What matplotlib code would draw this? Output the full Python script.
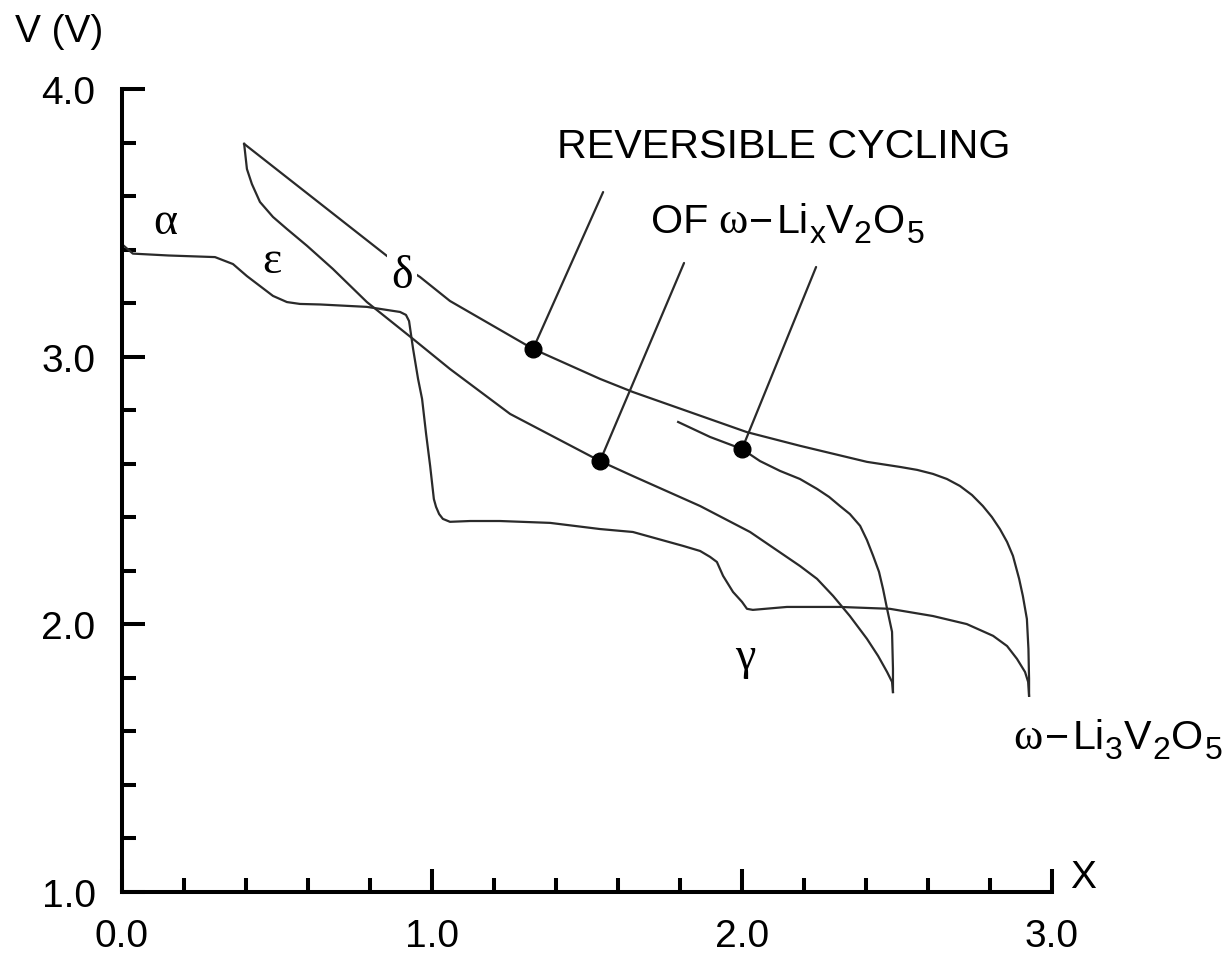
import matplotlib
matplotlib.use("Agg")
import matplotlib.pyplot as plt
from matplotlib.ticker import MultipleLocator, FormatStrFormatter
from matplotlib.transforms import offset_copy

plt.rcParams["font.family"] = ["Liberation Sans", "DejaVu Sans"]

SANS = "Liberation Sans"
SERIF = "Liberation Serif"

# First discharge of V2O5: alpha -> epsilon -> delta -> gamma -> omega
first_x = [0.0, 0.035, 0.15, 0.30, 0.358, 0.403, 0.445, 0.487, 0.532, 0.574,
           0.639, 0.79, 0.897, 0.916, 0.926, 0.932, 0.939, 0.955, 0.968, 0.981,
           0.994, 1.006, 1.013, 1.023, 1.035, 1.058, 1.123, 1.219, 1.381,
           1.542, 1.648, 1.81, 1.865, 1.897, 1.919, 1.939, 1.971, 2.0, 2.016,
           2.035, 2.145, 2.316, 2.477, 2.616, 2.725, 2.81, 2.855, 2.887,
           2.913, 2.923, 2.926]
first_v = [3.42, 3.385, 3.378, 3.372, 3.346, 3.301, 3.264, 3.227, 3.204, 3.197,
           3.195, 3.186, 3.167, 3.156, 3.133, 3.085, 3.029, 2.917, 2.842, 2.711,
           2.592, 2.468, 2.439, 2.412, 2.394, 2.383, 2.386, 2.386, 2.379,
           2.356, 2.345, 2.293, 2.274, 2.252, 2.233, 2.181, 2.121, 2.084, 2.058,
           2.054, 2.065, 2.065, 2.058, 2.031, 2.001, 1.957, 1.919, 1.871,
           1.822, 1.785, 1.733]

# Charge of omega-Li3V2O5 (outer reversible branch)
charge_x = [2.926, 2.926, 2.924, 2.919, 2.906, 2.894, 2.874, 2.855, 2.832,
            2.806, 2.777, 2.742, 2.703, 2.661, 2.616, 2.565, 2.51, 2.403,
            2.187, 2.016, 1.648, 1.542, 1.326, 1.058, 0.961, 0.855, 0.394]
charge_v = [1.733, 1.796, 1.908, 2.020, 2.106, 2.170, 2.256, 2.308, 2.356,
            2.401, 2.442, 2.483, 2.517, 2.543, 2.562, 2.577, 2.588, 2.607,
            2.667, 2.718, 2.868, 2.917, 3.029, 3.208, 3.298, 3.376, 3.795]

# Subsequent discharge of omega-LixV2O5
disch_x = [0.394, 0.403, 0.419, 0.445, 0.487, 0.532, 0.597, 0.68, 0.79, 0.939,
           1.058, 1.252, 1.542, 1.648, 1.865, 2.026, 2.187, 2.242, 2.294,
           2.348, 2.403, 2.439, 2.468, 2.484, 2.487]
disch_v = [3.795, 3.701, 3.645, 3.578, 3.522, 3.477, 3.414, 3.328, 3.204, 3.066,
           2.954, 2.786, 2.610, 2.554, 2.442, 2.345, 2.218, 2.170, 2.106,
           2.031, 1.946, 1.882, 1.822, 1.785, 1.747]

# Partial recharge (inner branch)
recharge_x = [2.487, 2.487, 2.484, 2.468, 2.455, 2.442, 2.423, 2.403, 2.381,
              2.348, 2.316, 2.281, 2.242, 2.187, 2.123, 2.058, 2.0, 1.897,
              1.794]
recharge_v = [1.747, 1.834, 1.972, 2.058, 2.132, 2.196, 2.256, 2.315, 2.368,
              2.412, 2.442, 2.476, 2.506, 2.543, 2.573, 2.610, 2.655, 2.700,
              2.756]

# Marked points and the far ends of their leader lines
dot_x = [1.326, 1.542, 2.0]
dot_v = [3.029, 2.610, 2.655]
leader_x = [1.552, 1.813, 2.239]
leader_v = [3.615, 3.350, 3.335]

# Phase labels
phase_names = ["\u03b1", "\u03b5", "\u03b4", "\u03b3"]
phase_x = [0.139, 0.484, 0.903, 2.010]
phase_v = [3.503, 3.357, 3.301, 1.878]
phase_masks_line = [False, False, True, False]

x_ticks = [0.0, 1.0, 2.0, 3.0]
v_ticks = [1.0, 2.0, 3.0, 4.0]

W, H = 1225, 962
fig = plt.figure(figsize=(W / 100, H / 100), dpi=100)
ax = fig.add_axes([122 / W, (H - 893) / H, 930 / W, 803 / H])
ax.set_xlim(0, 3)
ax.set_ylim(1, 4)

for s in ("top", "right"):
    ax.spines[s].set_visible(False)
for s in ("left", "bottom"):
    ax.spines[s].set_linewidth(2.9)

ax.set_xticks(x_ticks)
ax.set_yticks(v_ticks)
ax.xaxis.set_minor_locator(MultipleLocator(0.2))
ax.yaxis.set_minor_locator(MultipleLocator(0.2))
ax.xaxis.set_major_formatter(FormatStrFormatter("%.1f"))
ax.yaxis.set_major_formatter(FormatStrFormatter("%.1f"))
ax.tick_params(which="major", direction="in", length=16.5, width=2.9,
               labelsize=28, pad=19)
ax.tick_params(which="minor", direction="in", length=10, width=2.9)

line_kw = dict(color="#2a2a2a", lw=1.6, clip_on=False, solid_joinstyle="round")
ax.plot(first_x, first_v, **line_kw)
ax.plot(charge_x, charge_v, **line_kw)
ax.plot(disch_x, disch_v, **line_kw)
ax.plot(recharge_x, recharge_v, **line_kw)

for dx, dv, lx, lv in zip(dot_x, dot_v, leader_x, leader_v):
    ax.annotate("", xy=(dx, dv), xytext=(lx, lv),
                arrowprops=dict(arrowstyle="-", color="#2a2a2a", lw=1.6,
                                shrinkA=0, shrinkB=0))
ax.plot(dot_x, dot_v, "o", color="black", ms=12, zorder=5)

for name, px, pv, mask in zip(phase_names, phase_x, phase_v, phase_masks_line):
    kw = {}
    if mask:
        kw["bbox"] = dict(boxstyle="square,pad=0.1", fc="white", ec="none")
    ax.text(px, pv, name, family=SERIF, fontsize=33, ha="center",
            va="center", zorder=6, **kw)


def formula(x, y, pieces):
    """Lay out text pieces left to right; each piece is
    (text, size, family, baseline shift in pt, gap before in pt)."""
    renderer = fig.canvas.get_renderer()
    offset = 0.0
    for s, size, fam, dy, gap in pieces:
        offset += gap
        tr = offset_copy(ax.transData, fig=fig, x=offset, y=dy, units="points")
        t = ax.text(x, y, s, fontsize=size, family=fam, ha="left",
                    va="baseline", transform=tr)
        offset += t.get_window_extent(renderer).width * 72 / fig.dpi


MAIN = 29.7
SUB = 23
SHIFT = -7.5
OMEGA = 32

ax.text(1.403, 3.746, "REVERSIBLE CYCLING", fontsize=MAIN, ha="left",
        va="baseline")
formula(1.706, 3.466, [
    ("OF", MAIN, SANS, 0, 0),
    ("\u03c9", OMEGA, SERIF, 0, 7.0),
    ("\u2212", MAIN, SANS, 0, 1.5),
    ("Li", MAIN, SANS, 0, 2.5),
    ("x", SUB, SANS, SHIFT, 0.5),
    ("V", MAIN, SANS, 0, 0.0),
    ("2", SUB, SANS, SHIFT, 0.5),
    ("O", MAIN, SANS, 0, 1.0),
    ("5", SUB, SANS, SHIFT, 1.0),
])
formula(2.874, 1.538, [
    ("\u03c9", OMEGA, SERIF, 0, 0),
    ("\u2212", MAIN, SANS, 0, 2.0),
    ("Li", MAIN, SANS, 0, 2.5),
    ("3", SUB, SANS, SHIFT, 0.5),
    ("V", MAIN, SANS, 0, 0.5),
    ("2", SUB, SANS, SHIFT, 0.5),
    ("O", MAIN, SANS, 0, 1.0),
    ("5", SUB, SANS, SHIFT, 1.0),
])

fig.text(15 / W, 1 - 42 / H, "V (V)", fontsize=28, ha="left", va="baseline")
fig.text(1070 / W, 1 - 888 / H, "X", fontsize=28, ha="left", va="baseline")

fig.savefig("out.png", dpi=100, facecolor="white")
